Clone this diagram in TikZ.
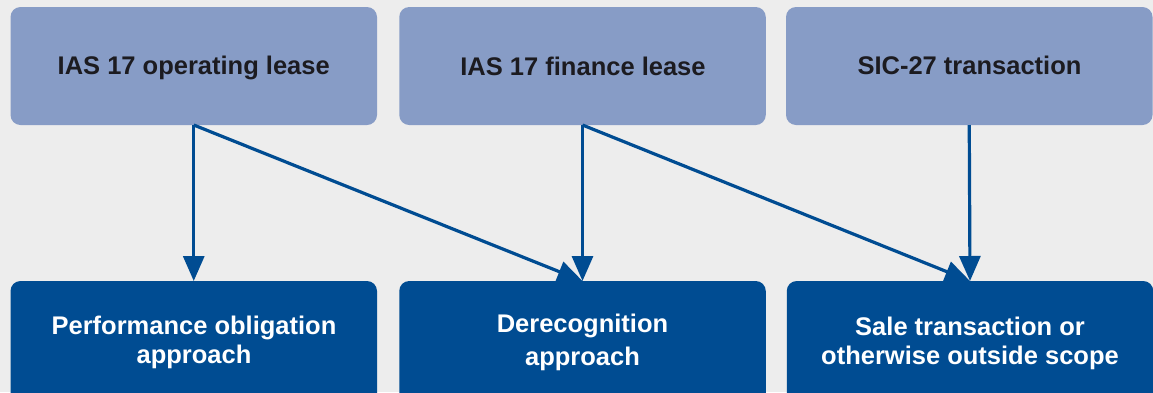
\documentclass[tikz,border=0pt]{standalone}
\usepackage{fontspec}
\setmainfont{Liberation Sans}
\usetikzlibrary{arrows.meta}
\definecolor{bg}{HTML}{EDEDED}
\definecolor{lightbox}{HTML}{879CC6}
\definecolor{darkbox}{HTML}{004C92}
\definecolor{ink}{HTML}{1C1B20}
\begin{document}
\begin{tikzpicture}[x=1pt,y=-1pt,
  box/.style={rounded corners=10pt, inner sep=0pt, outer sep=0pt,
              minimum width=366.5pt},
  srcbox/.style={box, fill=lightbox, minimum height=118pt},
  resbox/.style={box, fill=darkbox, minimum height=140pt},
  toplabel/.style={anchor=base, inner sep=0pt, text=ink,
                   font=\bfseries\fontsize{25.5}{29}\selectfont},
  botlabel/.style={anchor=base, inner sep=0pt, text=white, align=center,
                   font=\bfseries\fontsize{25.5}{29}\selectfont},
  flow/.style={draw=darkbox, line width=3.2pt,
               -{Triangle[length=25pt,width=21pt]}}]
  % canvas
  \useasboundingbox (0,0) rectangle (1153,392);
  \clip (0,0) rectangle (1153,392);
  \fill[bg] (0,0) rectangle (1153,392);

  % lease classifications
  \node[srcbox] (t1) at (193.75,66) {};
  \node[srcbox] (t2) at (582.5,66) {};
  \node[srcbox] (t3) at (969.25,66) {};
  \node[toplabel] (l1) at (193.75,74) {IAS 17 operating lease};
  \node[toplabel] (l2) at (583,75) {IAS 17 finance lease};
  \node[toplabel] (l3) at (969.5,74) {SIC-27 transaction};

  % resulting treatments (base anchor sits on the last line)
  \node[resbox] (b1) at (193.75,351) {};
  \node[resbox] (b2) at (582.5,351) {};
  \node[resbox] (b3) at (970,351) {};
  \node[botlabel] (m1) at (194,363) {Performance obligation\\approach};
  \node[botlabel, font=\bfseries\fontsize{25.5}{33}\selectfont]
       (m2) at (582.5,365) {Derecognition\\approach};
  \node[botlabel] (m3) at (970,364) {Sale transaction or\\otherwise outside scope};

  % connectors
  \draw[flow] (t1.south) -- (b1.north);
  \draw[flow] (t1.south) -- (b2.north);
  \draw[flow] (t2.south) -- (b2.north);
  \draw[flow] (t2.south) -- (b3.north);
  \draw[flow] (t3.south) -- (b3.north);
\end{tikzpicture}
\end{document}
